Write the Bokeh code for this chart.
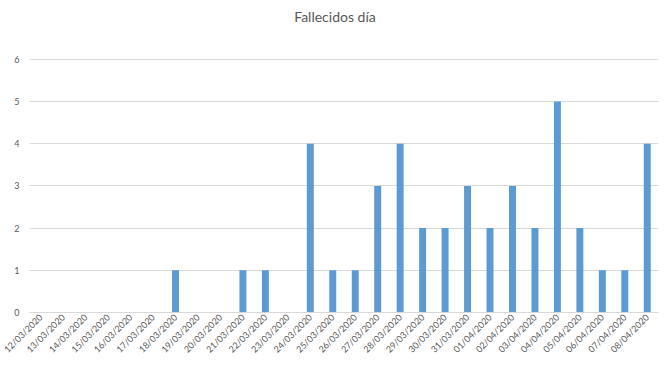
import math
from bokeh.plotting import figure
from bokeh.layouts import column
from bokeh.models import ColumnDataSource, FactorRange, Range1d, FixedTicker, Div
from bokeh.embed import file_html
from bokeh.resources import INLINE

titulo = "Fallecidos día"
fechas = ["12/03/2020", "13/03/2020", "14/03/2020", "15/03/2020", "16/03/2020",
          "17/03/2020", "18/03/2020", "19/03/2020", "20/03/2020", "21/03/2020",
          "22/03/2020", "23/03/2020", "24/03/2020", "25/03/2020", "26/03/2020",
          "27/03/2020", "28/03/2020", "29/03/2020", "30/03/2020", "31/03/2020",
          "01/04/2020", "02/04/2020", "03/04/2020", "04/04/2020", "05/04/2020",
          "06/04/2020", "07/04/2020", "08/04/2020"]
fallecidos = [0, 0, 0, 0, 0, 0, 1, 0, 0, 1, 1, 0, 4, 1, 1, 3, 4, 2, 2, 3,
              2, 3, 2, 5, 2, 1, 1, 4]
y_ticks = [0, 1, 2, 3, 4, 5, 6]

FONT = "Lato"
GRAY = "#595959"

src = ColumnDataSource(dict(x=fechas, y=fallecidos))

p = figure(frame_width=629, frame_height=254,
           x_range=FactorRange(*fechas, range_padding=0),
           y_range=Range1d(0, 6.02), output_backend="svg",
           toolbar_location=None,
           min_border_left=29, min_border_right=12,
           min_border_top=28, min_border_bottom=65)

p.vbar(x="x", top="y", width=0.31, source=src, fill_color="#5B9BD5",
       line_color=None)

p.outline_line_color = None
p.xgrid.grid_line_color = None
p.ygrid.grid_line_color = "#d9d9d9"
p.ygrid.grid_line_width = 1

p.yaxis.ticker = FixedTicker(ticks=y_ticks)
p.yaxis.axis_line_color = None
p.yaxis.major_tick_line_color = None
p.yaxis.major_tick_out = 0
p.yaxis.minor_tick_line_color = None
p.yaxis.major_label_text_font = FONT
p.yaxis.major_label_text_font_size = "9px"
p.yaxis.major_label_text_color = GRAY
p.yaxis.major_label_standoff = 10

p.xaxis.axis_line_color = "#d9d9d9"
p.xaxis.major_tick_line_color = None
p.xaxis.major_tick_out = 0
p.xaxis.major_tick_in = 0
p.xaxis.major_label_orientation = math.pi / 4
p.xaxis.major_label_text_font = FONT
p.xaxis.major_label_text_font_size = "9px"
p.xaxis.major_label_text_color = GRAY
p.xaxis.major_label_standoff = 3

head = Div(text=titulo, width=670, height=30, margin=0,
           styles={"text-align": "center", "font-family": FONT,
                   "font-size": "14px", "color": GRAY,
                   "padding-top": "7px", "box-sizing": "border-box"})

layout = column(head, p, spacing=0)

open("out.html", "w").write(file_html(layout, INLINE))
